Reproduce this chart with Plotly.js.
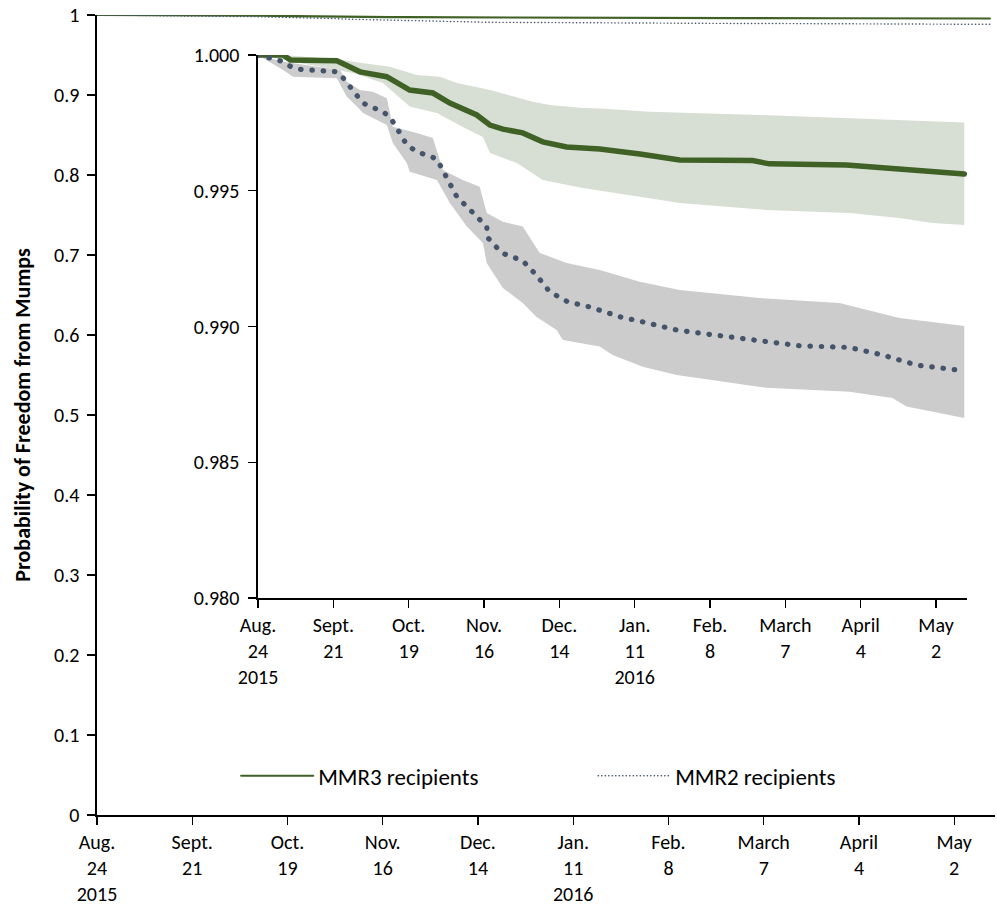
<!DOCTYPE html>
<html>
<head>
<meta charset="utf-8">
<script src="https://cdn.plot.ly/plotly-3.0.1.min.js"></script>
<style>
  html, body { margin: 0; padding: 0; background: #fff; }
  #chart { width: 997px; height: 918px; }
  path.js-line { stroke-linecap: round; }
</style>
</head>
<body>
<div id="chart"></div>
<script>
// ---- tick labels (days since Aug 24, 2015) ----
const tickDays = [0, 28, 56, 84, 112, 140, 168, 196, 224, 252];
const tickLabels = ["Aug.<br>24<br>2015", "Sept.<br>21", "Oct.<br>19", "Nov.<br>16", "Dec.<br>14",
  "Jan.<br>11<br>2016", "Feb.<br>8", "March<br>7", "April<br>4", "May<br>2"];
const mainYTicks = [0, 0.1, 0.2, 0.3, 0.4, 0.5, 0.6, 0.7, 0.8, 0.9, 1];
const insetYTicks = [0.980, 0.985, 0.990, 0.995, 1.000];

// ---- MMR3 recipients ----
const mmr3Day = [0, 9.3, 12.0, 29.3, 37.9, 47.8, 56.4, 65.0, 71.3, 81.3, 86.2, 91.0, 98.4, 105.8, 114.7, 127.0, 141.9, 156.7, 183.8, 190.1, 218.7, 238.4, 250.7, 262.5];
const mmr3Surv = [1.0, 1.0, 0.99982, 0.99979, 0.99938, 0.99920, 0.99871, 0.99860, 0.99823, 0.99779, 0.99742, 0.99727, 0.99713, 0.99680, 0.99661, 0.99654, 0.99635, 0.99613, 0.99611, 0.99599, 0.99595, 0.99580, 0.99570, 0.99562];
const mmr3UpperDay = [0, 9.3, 31.6, 37.9, 49.0, 59.0, 67.6, 73.9, 86.2, 102.1, 108.4, 120.7, 127.0, 145.6, 186.4, 238.4, 262.5];
const mmr3Upper = [1.0, 1.0, 0.99982, 0.99971, 0.99957, 0.99926, 0.99920, 0.99897, 0.99871, 0.99828, 0.99816, 0.99805, 0.99803, 0.99791, 0.99779, 0.99761, 0.99751];
const mmr3LowerDay = [0, 9.3, 35.3, 46.4, 56.4, 66.5, 76.1, 83.6, 86.2, 96.2, 105.8, 120.7, 141.9, 156.7, 189.0, 219.8, 238.4, 250.7, 262.5];
const mmr3Lower = [1.0, 0.99982, 0.99934, 0.99897, 0.99810, 0.99786, 0.99735, 0.99698, 0.99639, 0.99602, 0.99540, 0.99510, 0.99478, 0.99455, 0.99429, 0.99418, 0.99400, 0.99381, 0.99374];

// ---- MMR2 recipients ----
const mmr2Day = [0, 4.5, 8.2, 11.9, 15.6, 29.3, 31.6, 34.2, 36.8, 39.0, 46.4, 49.0, 51.6, 55.3, 59.0, 66.5, 70.2, 73.9, 79.5, 85.0, 85.4, 90.6, 98.4, 103.4, 108.4, 115.1, 123.3, 134.4, 143.0, 155.6, 167.8, 176.4, 189.0, 201.3, 219.8, 232.1, 244.7, 257.0, 262.5];
const mmr2Surv = [1.0, 0.99988, 0.99979, 0.99959, 0.99947, 0.99938, 0.99916, 0.99883, 0.99853, 0.99823, 0.99791, 0.99772, 0.99731, 0.99669, 0.99644, 0.99617, 0.99547, 0.99478, 0.99423, 0.99368, 0.99327, 0.99271, 0.99242, 0.99190, 0.99128, 0.99091, 0.99072, 0.99036, 0.99017, 0.98987, 0.98971, 0.98960, 0.98940, 0.98929, 0.98923, 0.98895, 0.98858, 0.98846, 0.98837];
const mmr2UpperDay = [0, 9.3, 30.5, 33.0, 37.9, 42.7, 47.9, 50.1, 59.0, 65.0, 68.7, 76.1, 82.4, 85.0, 91.0, 98.4, 104.7, 114.7, 127.0, 141.9, 156.7, 186.4, 216.1, 238.4, 262.5];
const mmr2Upper = [1.0, 0.99975, 0.99945, 0.99902, 0.99871, 0.99865, 0.99841, 0.99736, 0.99713, 0.99694, 0.99576, 0.99540, 0.99515, 0.99418, 0.99386, 0.99368, 0.99271, 0.99234, 0.99208, 0.99165, 0.99134, 0.99105, 0.99087, 0.99031, 0.99002];
const mmr2LowerDay = [0, 9.3, 13.0, 29.3, 33.0, 36.8, 39.0, 44.2, 47.9, 50.1, 55.3, 56.4, 66.5, 71.3, 77.6, 83.6, 85.0, 91.0, 98.4, 103.4, 111.0, 113.3, 127.0, 131.8, 143.0, 155.6, 189.0, 219.8, 235.8, 241.0, 262.5];
const mmr2Lower = [1.0, 0.99945, 0.99920, 0.99914, 0.99846, 0.99810, 0.99786, 0.99761, 0.99742, 0.99676, 0.99602, 0.99570, 0.99540, 0.99455, 0.99368, 0.99308, 0.99234, 0.99142, 0.99087, 0.99036, 0.98987, 0.98950, 0.98926, 0.98895, 0.98852, 0.98821, 0.98774, 0.98760, 0.98737, 0.98705, 0.98663];

const FONT = "Carlito, Calibri, Lato, 'Liberation Sans', sans-serif";
const FS = 20;
const GREEN = '#3F6125';
const BLUE = '#44546A';

function band(upX, upY, loX, loY) {
  return {
    x: upX.concat(loX.slice().reverse()),
    y: upY.concat(loY.slice().reverse())
  };
}
const b2 = band(mmr2UpperDay, mmr2Upper, mmr2LowerDay, mmr2Lower);
const b3 = band(mmr3UpperDay, mmr3Upper, mmr3LowerDay, mmr3Lower);

const traces = [
  // main panel
  { x: mmr3Day, y: mmr3Surv, xaxis: 'x', yaxis: 'y', mode: 'lines', name: 'MMR3 recipients',
    line: { color: GREEN, width: 2.2 }, hoverinfo: 'skip' },
  { x: mmr2Day, y: mmr2Surv, xaxis: 'x', yaxis: 'y', mode: 'lines', name: 'MMR2 recipients',
    line: { color: BLUE, width: 1.4, dash: '0.3px,3.2px' }, hoverinfo: 'skip' },
  // inset bands
  { x: b2.x, y: b2.y, xaxis: 'x2', yaxis: 'y2', mode: 'lines', fill: 'toself', fillcolor: '#CCCCCC',
    line: { width: 0 }, showlegend: false, hoverinfo: 'skip' },
  { x: b3.x, y: b3.y, xaxis: 'x2', yaxis: 'y2', mode: 'lines', fill: 'toself', fillcolor: '#D7DED4',
    line: { width: 0 }, showlegend: false, hoverinfo: 'skip' },
  // inset lines
  { x: mmr3Day, y: mmr3Surv, xaxis: 'x2', yaxis: 'y2', mode: 'lines', showlegend: false,
    line: { color: GREEN, width: 5.5 }, hoverinfo: 'skip' },
  { x: mmr2Day, y: mmr2Surv, xaxis: 'x2', yaxis: 'y2', mode: 'lines', showlegend: false,
    line: { color: BLUE, width: 5.2, dash: '0.5px,10.8px' }, hoverinfo: 'skip' }
];

const axBase = {
  showgrid: false, zeroline: false, showline: true, linecolor: '#000', linewidth: 1.6,
  ticks: 'outside', ticklen: 8, tickwidth: 1.2, tickcolor: '#000',
  tickfont: { family: FONT, size: FS, color: '#000' }
};

const layout = {
  width: 997, height: 918,
  margin: { l: 97, r: 2, t: 15, b: 103 },
  paper_bgcolor: '#fff', plot_bgcolor: 'rgba(0,0,0,0)',
  font: { family: FONT, size: FS, color: '#000' },
  xaxis: Object.assign({}, axBase, {
    domain: [0, 1], range: [0, 264], tickmode: 'array', tickvals: tickDays, ticktext: tickLabels,
    anchor: 'y', fixedrange: true
  }),
  yaxis: Object.assign({}, axBase, {
    domain: [0, 1], range: [0, 1], tickmode: 'array', tickvals: mainYTicks,
    ticktext: mainYTicks.map(v => String(Math.round(v * 10) / 10)),
    anchor: 'x', fixedrange: true, ticklabelstandoff: 4,
    title: { text: '<b>Probability of Freedom from Mumps</b>', font: { family: FONT, size: 22, color: '#000' }, standoff: 17 }
  }),
  xaxis2: Object.assign({}, axBase, {
    domain: [0.1793, 0.9688], range: [0, 263.5], tickmode: 'array', tickvals: tickDays, ticktext: tickLabels,
    anchor: 'y2', fixedrange: true
  }),
  yaxis2: Object.assign({}, axBase, {
    domain: [0.27125, 0.95], range: [0.98, 1.0], tickmode: 'array', tickvals: insetYTicks,
    tickformat: '.3f', anchor: 'x2', fixedrange: true, ticklabelstandoff: 5
  }),
  showlegend: true,
  legend: {
    orientation: 'h', x: 0.155, y: 0.049, xanchor: 'left', yanchor: 'middle',
    bgcolor: 'rgba(0,0,0,0)', font: { family: FONT, size: 23, color: '#000' },
    itemwidth: 72, entrywidth: 270, entrywidthmode: 'pixels'
  }
};

Plotly.newPlot('chart', traces, layout, { displayModeBar: false, staticPlot: true });
</script>
</body>
</html>
